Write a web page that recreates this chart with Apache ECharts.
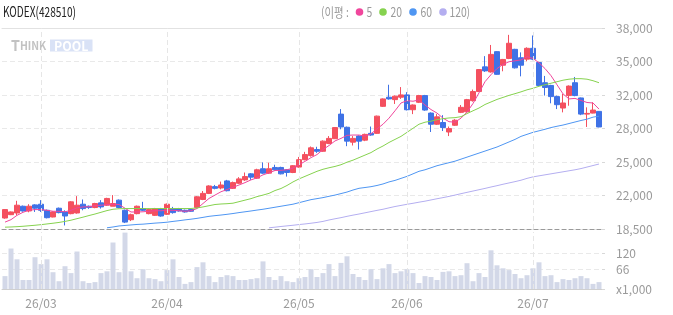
<!DOCTYPE html>
<html><head><meta charset="utf-8">
<script src="https://cdn.jsdelivr.net/npm/echarts@6/dist/echarts.min.js"></script>
<style>html,body{margin:0;padding:0;background:#fff}#c{width:673px;height:315px}</style>
</head><body><div id="c"></div><script>
const dates=['2026-02-20','2026-02-23','2026-02-24','2026-02-25','2026-02-26','2026-02-27',
'2026-03-03','2026-03-04','2026-03-05','2026-03-06','2026-03-09','2026-03-10','2026-03-11','2026-03-12','2026-03-13','2026-03-16','2026-03-17','2026-03-18','2026-03-19','2026-03-20','2026-03-23','2026-03-24','2026-03-25','2026-03-26','2026-03-27','2026-03-30','2026-03-31',
'2026-04-01','2026-04-02','2026-04-03','2026-04-06','2026-04-07','2026-04-08','2026-04-09','2026-04-10','2026-04-13','2026-04-14','2026-04-15','2026-04-16','2026-04-17','2026-04-20','2026-04-21','2026-04-22','2026-04-23','2026-04-24','2026-04-27','2026-04-28','2026-04-29','2026-04-30',
'2026-05-04','2026-05-06','2026-05-07','2026-05-08','2026-05-11','2026-05-12','2026-05-13','2026-05-14','2026-05-15','2026-05-18','2026-05-19','2026-05-20','2026-05-21','2026-05-22','2026-05-26','2026-05-27','2026-05-28','2026-05-29',
'2026-06-01','2026-06-02','2026-06-04','2026-06-05','2026-06-08','2026-06-09','2026-06-10','2026-06-11','2026-06-12','2026-06-15','2026-06-16','2026-06-17','2026-06-18','2026-06-19','2026-06-22','2026-06-23','2026-06-24','2026-06-25','2026-06-26','2026-06-29','2026-06-30',
'2026-07-01','2026-07-02','2026-07-03','2026-07-06','2026-07-07','2026-07-08','2026-07-09','2026-07-10','2026-07-13','2026-07-14','2026-07-15','2026-07-16'];

const opens=[19565,19890,20055,20710,20250,20840,20905,20315,19665,20515,
20155,19990,20055,20905,20710,20580,21035,20810,20710,21300,
20315,19400,19990,20480,19990,19825,20480,19925,20480,20480,
20315,20385,20580,21365,21955,22610,22480,23165,22445,22940,
23265,23850,23430,24345,23920,24470,24470,24245,23980,24510,
25225,25620,26210,26040,26800,27260,29645,28370,26925,27515,
27120,27780,27780,30400,31285,31050,31285,31510,30070,30795,
31445,29745,28665,28830,27910,28565,29815,29870,30950,31835,
34230,33740,35705,34390,35045,35930,35115,34980,36030,34655,
32690,32425,31345,30235,31445,32690,31215,29645,29745,29910];
const closes=[20385,20155,20810,20250,20710,20515,20315,19595,20155,20090,
19760,21135,20810,20480,20580,20970,20645,21465,20970,20580,
19170,19890,20710,20315,20385,20480,19760,20905,20090,20250,
20155,20220,21625,21955,22675,22445,22770,22215,23000,23360,
23585,23530,24245,23920,24345,24245,23850,23980,24640,25225,
25720,26375,26040,27025,27290,28340,28400,27025,27290,27025,
27680,27615,29450,31120,31120,31385,31510,30070,30530,31445,
30040,28665,29380,28340,28240,29055,30305,31050,31835,33965,
33840,35440,33505,34950,36520,34135,34390,36030,34980,32425,
32230,31345,30560,30725,32365,31445,29645,29715,30040,28400];
const lows=[19500,19850,19825,20190,20120,20155,20155,19530,19630,20020,
18845,19925,19990,20315,20450,20515,20480,20745,20710,20515,
19075,19270,19925,20250,19925,19760,19695,19860,19990,20185,
20090,20155,20515,21300,21890,22350,22350,22150,22380,22870,
23165,23265,23360,23850,23850,24175,23800,23585,23920,24440,
25160,25520,25885,25980,26730,27240,28175,26535,26600,26210,
27025,27545,27730,30335,31050,30630,31120,30005,29645,30720,
29970,27910,28600,28005,27515,28500,29745,29810,30855,31800,
33740,33670,33470,33800,34980,34070,33310,34780,34880,32360,
31445,30695,30135,29815,30460,31380,29545,28400,29715,28370];
const highs=[20420,20200,21235,20775,20905,20905,21300,20385,20220,20580,
20315,21200,21690,21365,20775,21040,21300,21530,21790,21365,
20385,19990,20775,21135,20480,20545,20545,20970,20645,20545,
20385,20480,21690,22185,22740,22775,23100,23265,23100,23530,
23980,23920,24345,24960,24930,24735,24540,24300,24700,25490,
25985,26505,26475,27095,27515,28370,30135,28435,27515,27580,
27750,28440,29500,31170,32495,31450,32270,31775,30580,31510,
31510,29810,29645,29545,28440,29155,30530,31120,32030,34020,
35270,36355,35740,35000,37335,35980,35635,36125,37275,34720,
33350,32490,31445,31610,32430,33250,31250,30305,30795,29940];
const volumes=[43,135,99,30,30,106,83,99,56,26,
76,53,125,26,20,23,53,59,155,56,
188,59,36,66,36,33,26,63,99,40,
17,23,73,89,43,23,40,46,43,30,
30,33,36,92,40,30,43,26,23,36,
40,66,40,53,83,43,87,109,50,40,
30,66,33,69,83,53,59,66,53,20,
43,40,30,57,59,43,46,86,26,53,
40,129,79,69,63,50,36,46,69,89,
43,46,23,33,30,36,43,36,17,23];
const ma5=[19170,19405,19825,20120,20315,20385,20385,20315,20220,20220,
20170,20315,20560,20640,20660,20760,20810,20855,20905,20875,
20515,20150,20150,20170,20220,20270,20270,20315,20315,20270,
20220,20270,20485,20975,21465,21790,22115,22330,22545,22770,
23000,23265,23460,23755,23950,24175,24195,24245,24410,24735,
25060,25425,25720,26210,26600,27045,27290,27585,27615,27615,
27515,27730,28220,28665,29255,29970,30725,30950,30895,31020,
30530,30090,29745,29255,28910,28860,29255,29840,30675,31710,
32790,33475,34065,34460,34725,34820,34900,35215,35045,34625,
34065,33375,32495,31610,31120,31170,30970,30775,30725,30135];
const ma20=[18677,18696,18726,18765,18814,18863,18922,18991,19060,19138,
19237,19354,19502,19649,19806,19953,20120,20287,20415,20464,
20480,20484,20490,20484,20478,20484,20490,20484,20480,20488,
20484,20490,20543,20641,20759,20876,20926,20955,21004,21151,
21299,21446,21642,21790,21957,22232,22428,22723,23066,23361,
23606,23852,24097,24294,24441,24569,24736,24981,25178,25423,
25669,25914,26258,26552,26896,27191,27485,27878,28271,28664,
28860,28958,29106,29204,29272,29302,29400,29695,29970,30235,
30579,30824,31070,31266,31462,31629,31806,32003,32150,32346,
32494,32641,32788,32935,33034,33083,33083,33034,32886,32690];
const ma60=[null,null,null,null,null,null,null,null,null,null,
null,null,null,null,null,null,null,18618,18696,18795,
18844,18893,18942,18971,19020,19070,19109,19158,19237,19305,
19384,19453,19531,19629,19728,19796,19855,19924,20002,20091,
20169,20248,20336,20415,20513,20611,20710,20808,20906,21053,
21201,21348,21446,21544,21672,21790,21937,22084,22281,22448,
22526,22605,22723,22870,23066,23214,23410,23606,23852,24097,
24245,24441,24638,24785,24932,25079,25276,25472,25669,25865,
26061,26258,26454,26700,26945,27191,27485,27682,27878,28025,
28173,28340,28467,28585,28732,28880,29027,29155,29351,29449];
const ma120=[null,null,null,null,null,null,null,null,null,null,
null,null,null,null,null,null,null,null,null,null,
null,null,null,null,null,null,null,null,null,null,
null,null,null,null,null,null,null,null,null,null,
null,null,null,null,18618,18677,18745,18804,18863,18932,
18991,19060,19138,19237,19374,19492,19600,19728,19845,19953,
20071,20189,20307,20415,20552,20680,20788,20896,20994,21102,
21201,21318,21436,21544,21662,21790,21927,22055,22183,22310,
22438,22575,22703,22840,22968,23096,23233,23410,23557,23656,
23754,23852,23950,24048,24147,24245,24362,24510,24657,24804];

const priceMin=18500, priceMax=38000, priceStep=3250;
const priceTickLabels=['18,500','22,000','25,000','28,000','32,000','35,000','38,000'];
const volTicks=[0,66,120];
const volTickLabels=['x1,000','66','120'];
const volMax=190;
const maNames=['5','20','60','120'];
const maColors=['#f0469c','#86d24f','#4f96f2','#b4aef0'];
const title='KODEX(428510)';

const FONT='"Noto Sans CJK KR","Noto Sans",sans-serif';
const mctx=document.createElement('canvas').getContext('2d');
function fit(text,font,target){mctx.font=font;return target/mctx.measureText(text).width;}

const monthStarts=dates.filter((d,i)=>i>0&&d.slice(5,7)!==dates[i-1].slice(5,7));
const candleData=dates.map((d,i)=>[opens[i],closes[i],lows[i],highs[i]]);
const UP='#f4505f', DOWN='#3f72e6';
const gridLine={color:'#e9e9e9',width:1,type:[5,3]};
const vLines={silent:true,symbol:['none','none'],label:{show:false},
  lineStyle:{color:'#e6e6e6',width:1,type:[5,3]},emphasis:{disabled:true},
  data:monthStarts.map(d=>({xAxis:d}))};

const titleFont='14px '+FONT;
const hdrFont='13px '+FONT;
const hdrScale=0.8;
const legendGraphics=[];
legendGraphics.push({type:'text',x:321,y:12,scaleX:hdrScale,style:{text:'(이평 :',font:hdrFont,fill:'#9a9a9a',verticalAlign:'middle'}});
const dotX=[359.5,383,413,443];
const txtX=[366.5,390.5,420.5,449.5];
maNames.forEach((n,k)=>{
  legendGraphics.push({type:'circle',shape:{cx:dotX[k],cy:12,r:3.8},style:{fill:maColors[k]}});
  legendGraphics.push({type:'text',x:txtX[k],y:12,scaleX:hdrScale,style:{text:n,font:hdrFont,fill:'#9a9a9a',verticalAlign:'middle'}});
});
legendGraphics.push({type:'text',x:466.5,y:12,scaleX:hdrScale,style:{text:')',font:hdrFont,fill:'#9a9a9a',verticalAlign:'middle'}});

const chart=echarts.init(document.getElementById('c'),null,{renderer:'canvas'});
chart.setOption({
  animation:false,
  backgroundColor:'#fff',
  textStyle:{fontFamily:FONT},
  graphic:[
    {type:'text',x:3,y:12,scaleX:fit(title,titleFont,73),style:{text:title,font:titleFont,fill:'#222',verticalAlign:'middle'}},
    ...legendGraphics,
    {type:'text',x:11,y:45.5,scaleX:0.95,style:{text:'{a|T}{b|HINK}',fill:'#c2c2c2',verticalAlign:'middle',
      rich:{a:{fontSize:15,fontWeight:'bold',fill:'#c2c2c2',fontFamily:FONT},b:{fontSize:11,fontWeight:'bold',fill:'#c2c2c2',fontFamily:FONT}}}},
    {type:'rect',shape:{x:50,y:39.5,width:42.5,height:12},style:{fill:'#d9e2f6'}},
    {type:'text',x:71.2,y:45.7,scaleX:0.95,style:{text:'POOL',font:'bold 13px '+FONT,fill:'#ffffff',align:'center',verticalAlign:'middle'}}
  ],
  grid:[
    {left:2,width:600,top:28,height:201},
    {left:2,width:600,top:232,height:57}
  ],
  xAxis:[
    {type:'category',gridIndex:0,data:dates,boundaryGap:true,
      axisLine:{show:true,lineStyle:{color:'#9a9a9a',width:1,type:[4,3]}},
      axisTick:{show:false},axisLabel:{show:false},splitLine:{show:false}},
    {type:'category',gridIndex:0,data:dates,position:'top',boundaryGap:true,
      axisLine:{show:true,lineStyle:{color:'#e2e2e2',width:1}},
      axisTick:{show:false},axisLabel:{show:false},splitLine:{show:false}},
    {type:'category',gridIndex:1,data:dates,boundaryGap:true,
      axisLine:{show:true,lineStyle:{color:'#cfcfcf',width:1}},
      axisTick:{show:false},splitLine:{show:false},
      axisLabel:{show:true,color:'#9a9a9a',fontSize:12,margin:8,
        interval:(idx,val)=>monthStarts.includes(val),
        formatter:v=>v.slice(2,4)+'/'+v.slice(5,7)}}
  ],
  yAxis:[
    {type:'value',gridIndex:0,position:'right',min:priceMin,max:priceMax,interval:priceStep,
      axisLine:{show:false},axisTick:{show:true,length:3,lineStyle:{color:'#d8d8d8'}},
      axisLabel:{color:'#9a9a9a',fontSize:12,margin:14,
        formatter:v=>priceTickLabels[Math.round((v-priceMin)/priceStep)]},
      splitLine:{show:true,lineStyle:gridLine}},
    {type:'value',gridIndex:1,position:'right',min:0,max:volMax,
      axisLine:{show:false},
      axisTick:{show:true,length:3,customValues:volTicks,lineStyle:{color:'#d8d8d8'}},
      axisLabel:{color:'#9a9a9a',fontSize:12,margin:14,customValues:volTicks,
        formatter:v=>volTickLabels[volTicks.indexOf(v)]},
      splitLine:{show:true,lineStyle:gridLine}}
  ],
  series:[
    {type:'candlestick',name:'KODEX',xAxisIndex:0,yAxisIndex:0,data:candleData,barWidth:5,
      itemStyle:{color:UP,color0:DOWN,borderColor:UP,borderColor0:DOWN,borderWidth:1},
      markLine:vLines},
    {type:'line',name:maNames[0],xAxisIndex:0,yAxisIndex:0,data:ma5,showSymbol:false,
      lineStyle:{color:maColors[0],width:1},itemStyle:{color:maColors[0]}},
    {type:'line',name:maNames[1],xAxisIndex:0,yAxisIndex:0,data:ma20,showSymbol:false,
      lineStyle:{color:maColors[1],width:1},itemStyle:{color:maColors[1]}},
    {type:'line',name:maNames[2],xAxisIndex:0,yAxisIndex:0,data:ma60,showSymbol:false,
      lineStyle:{color:maColors[2],width:1},itemStyle:{color:maColors[2]}},
    {type:'line',name:maNames[3],xAxisIndex:0,yAxisIndex:0,data:ma120,showSymbol:false,
      lineStyle:{color:maColors[3],width:1},itemStyle:{color:maColors[3]}},
    {type:'bar',name:'volume',xAxisIndex:2,yAxisIndex:1,data:volumes,barWidth:5,
      itemStyle:{color:'#d3d8e8'},markLine:vLines}
  ]
});
</script></body></html>
